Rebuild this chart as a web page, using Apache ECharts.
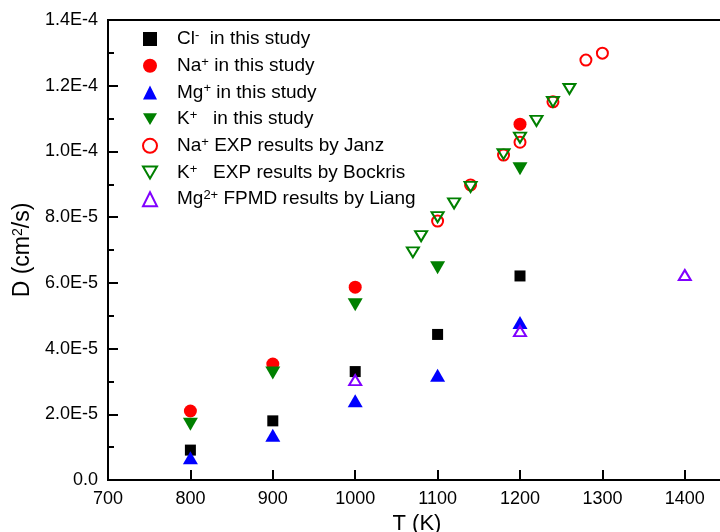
<!DOCTYPE html>
<html>
<head>
<meta charset="utf-8">
<script src="https://cdn.jsdelivr.net/npm/echarts@6/dist/echarts.min.js"></script>
<style>
html,body{margin:0;padding:0;background:#fff;}
#chart{width:720px;height:532px;}
</style>
</head>
<body>
<div id="chart"></div>
<script>
// ---- data ----
var clT = [800, 900, 1000, 1100, 1200];
var clD = [9.1e-6, 1.80e-5, 3.30e-5, 4.43e-5, 6.21e-5];

var naT = [800, 900, 1000, 1200];
var naD = [2.10e-5, 3.53e-5, 5.87e-5, 1.083e-4];

var mgT = [800, 900, 1000, 1100, 1200];
var mgD = [6.75e-6, 1.36e-5, 2.41e-5, 3.19e-5, 4.79e-5];

var kT = [800, 900, 1000, 1100, 1200];
var kD = [1.70e-5, 3.26e-5, 5.33e-5, 6.46e-5, 9.47e-5];

var janzT = [1100, 1140, 1180, 1200, 1240, 1280, 1300];
var janzD = [7.88e-5, 8.98e-5, 9.89e-5, 1.028e-4, 1.151e-4, 1.278e-4, 1.299e-4];

var bockT = [1070, 1080, 1100, 1120, 1140, 1180, 1200, 1220, 1240, 1260];
var bockD = [6.93e-5, 7.42e-5, 8.00e-5, 8.42e-5, 8.92e-5, 9.92e-5, 1.042e-4, 1.093e-4, 1.151e-4, 1.19e-4];

var liangT = [1000, 1200, 1400];
var liangD = [3.04e-5, 4.53e-5, 6.24e-5];

var seriesNames = [
  'Cl{sup|-}  in this study',
  'Na{sup|+} in this study',
  'Mg{sup|+} in this study',
  'K{sup|+}   in this study',
  'Na{sup|+} EXP results by Janz',
  'K{sup|+}   EXP results by Bockris',
  'Mg{sup|2+} FPMD results by Liang'
];
var xName = 'T (K)';
var yName = 'D (cm{sup|2}/s)';
var xMin = 700, xMax = 1450, xStep = 100;
var yMin = 0, yMax = 1.4e-4, yStep = 2e-5;

function pairs(xs, ys) {
  return xs.map(function (x, i) { return [x, ys[i]]; });
}

var DOWN_TRI = 'path://M0,0L20,0L10,17Z';

var chart = echarts.init(document.getElementById('chart'));
var FONT = 'Liberation Sans, Arial, sans-serif';
var supRich = {
  sup: { fontSize: 13, verticalAlign: 'top', lineHeight: 12, fontFamily: FONT, color: '#000' }
};

var option = {
  backgroundColor: '#fff',
  animation: false,
  grid: {
    left: 108, top: 20, bottom: 52, right: -6,
    outerBoundsMode: 'none',
    containLabel: false,
    show: true, borderColor: '#000', borderWidth: 2, backgroundColor: 'transparent'
  },
  legend: {
    orient: 'vertical',
    left: 137, top: 24,
    itemWidth: 14, itemHeight: 14,
    itemGap: 6.7,
    textStyle: {
      fontFamily: FONT, fontSize: 19, color: '#000', lineHeight: 20,
      padding: [0, 0, 0, 15],
      rich: supRich
    },
    formatter: function (n) { return n; }
  },
  xAxis: {
    type: 'value', min: xMin, max: xMax, interval: xStep,
    name: xName, nameLocation: 'middle', nameGap: 27,
    nameTextStyle: { fontFamily: FONT, fontSize: 22, color: '#000' },
    axisLine: { lineStyle: { color: '#000', width: 2 } },
    axisTick: { inside: true, length: 10, lineStyle: { color: '#000', width: 2 } },
    axisLabel: {
      fontFamily: FONT, fontSize: 18, color: '#000', margin: 10,
      showMaxLabel: false,
      formatter: function (v) { return (v % 100 === 0) ? String(v) : ''; }
    },
    splitLine: { show: false }
  },
  yAxis: {
    type: 'value', min: yMin, max: yMax, interval: yStep,
    name: yName, nameLocation: 'middle', nameGap: 74, nameRotate: 90,
    nameTextStyle: { fontFamily: FONT, fontSize: 23, color: '#000', rich: {
      sup: { fontSize: 14, verticalAlign: 'top', lineHeight: 14, fontFamily: FONT, color: '#000' }
    } },
    axisLine: { show: true, lineStyle: { color: '#000', width: 2 } },
    axisTick: { inside: true, length: 10, lineStyle: { color: '#000', width: 2 } },
    minorTick: { show: true, splitNumber: 2, length: 6, lineStyle: { color: '#000', width: 2 } },
    axisLabel: {
      fontFamily: FONT, fontSize: 18, color: '#000', margin: 10,
      formatter: function (v) {
        if (Math.abs(v) < 1e-12) return '0.0';
        return v.toExponential(1).toUpperCase().replace('+', '');
      }
    },
    splitLine: { show: false }
  },
  series: [
    { name: seriesNames[0], type: 'scatter', data: pairs(clT, clD), symbol: 'rect', symbolSize: 11,
      itemStyle: { color: '#000', opacity: 1 } },
    { name: seriesNames[1], type: 'scatter', data: pairs(naT, naD), symbol: 'circle', symbolSize: 13,
      itemStyle: { color: '#ff0000', opacity: 1 } },
    { name: seriesNames[2], type: 'scatter', data: pairs(mgT, mgD), symbol: 'triangle', symbolSize: [15, 13],
      itemStyle: { color: '#0000ff', opacity: 1 } },
    { name: seriesNames[3], type: 'scatter', data: pairs(kT, kD), symbol: DOWN_TRI, symbolSize: [15, 13],
      itemStyle: { color: '#008000', opacity: 1 } },
    { name: seriesNames[4], type: 'scatter', data: pairs(janzT, janzD), symbol: 'circle', symbolSize: 11,
      itemStyle: { color: 'rgba(255,255,255,0)', borderColor: '#ff0000', borderWidth: 2, opacity: 1 } },
    { name: seriesNames[5], type: 'scatter', data: pairs(bockT, bockD), symbol: DOWN_TRI, symbolSize: [12, 10],
      itemStyle: { color: 'rgba(255,255,255,0)', borderColor: '#008000', borderWidth: 2, opacity: 1 } },
    { name: seriesNames[6], type: 'scatter', data: pairs(liangT, liangD), symbol: 'triangle', symbolSize: [12, 10],
      itemStyle: { color: 'rgba(255,255,255,0)', borderColor: '#8000ff', borderWidth: 2, opacity: 1 } }
  ]
};
chart.setOption(option);
</script>
</body>
</html>
